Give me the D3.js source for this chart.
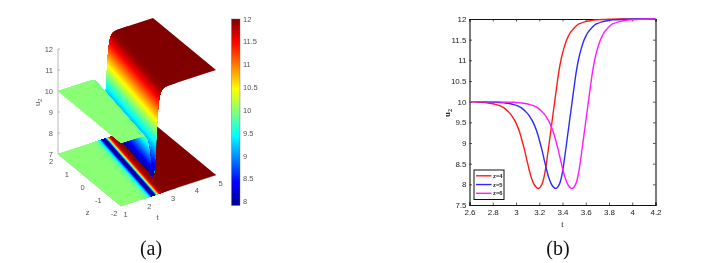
<!DOCTYPE html>
<html>
<head>
<meta charset="utf-8">
<script src="https://cdn.jsdelivr.net/npm/d3@7"></script>
<style>
  html, body { margin: 0; padding: 0; background: #fff; }
  svg { display: block; filter: blur(0.35px); }
  .tick-grey { font-family: "Liberation Sans", sans-serif; font-size: 7.5px; fill: #555; }
  .tick-dark { font-family: "Liberation Sans", sans-serif; font-size: 8px; fill: #222; }
  .caption { font-family: "Liberation Serif", serif; font-size: 20px; fill: #111; }
</style>
</head>
<body>
<svg id="chart" width="703" height="263"></svg>
<script>
// series, u level shared, t where each curve crosses it
const uLevels = [10, 9.985, 9.97, 9.955, 9.93, 9.89, 9.86, 9.82, 9.77, 9.71, 9.63, 9.54, 9.42, 9.27, 9.08, 8.87, 8.63, 8.39, 8.18, 8.03, 7.94, 7.9, 7.94, 8.05, 8.3, 8.68, 9.1, 9.52, 9.94, 10.36, 10.75, 11.05, 11.27, 11.45, 11.58, 11.68, 11.75, 11.81, 11.86, 11.89, 11.93, 11.96, 11.98, 11.99, 12, 12];
const tZ4 = [2.6, 2.69, 2.75, 2.79, 2.83, 2.87, 2.89, 2.91, 2.93, 2.95, 2.97, 2.99, 3.01, 3.03, 3.05, 3.07, 3.09, 3.11, 3.13, 3.15, 3.17, 3.19, 3.21, 3.23, 3.25, 3.27, 3.29, 3.31, 3.33, 3.35, 3.37, 3.39, 3.41, 3.43, 3.45, 3.47, 3.49, 3.51, 3.53, 3.55, 3.59, 3.64, 3.69, 3.77, 3.89, 4.2];
const tZ5 = [2.6, 2.84, 2.9, 2.94, 2.98, 3.02, 3.04, 3.06, 3.08, 3.1, 3.12, 3.14, 3.16, 3.18, 3.2, 3.22, 3.24, 3.26, 3.28, 3.3, 3.32, 3.34, 3.36, 3.38, 3.4, 3.42, 3.44, 3.46, 3.48, 3.5, 3.52, 3.54, 3.56, 3.58, 3.6, 3.62, 3.64, 3.66, 3.68, 3.7, 3.74, 3.79, 3.84, 3.92, 4.04, 4.2];
const tZ6 = [2.6, 2.98, 3.04, 3.08, 3.12, 3.16, 3.18, 3.2, 3.22, 3.24, 3.26, 3.28, 3.3, 3.32, 3.34, 3.36, 3.38, 3.4, 3.42, 3.44, 3.46, 3.48, 3.5, 3.52, 3.54, 3.56, 3.58, 3.6, 3.62, 3.64, 3.66, 3.68, 3.7, 3.72, 3.74, 3.76, 3.78, 3.8, 3.82, 3.84, 3.88, 3.93, 3.98, 4.06, 4.18, 4.2];

const seriesNames = ["z=4", "z=5", "z=6"];
const seriesColors = ["#ff1a1a", "#2a2aff", "#ff1aff"];

// panel (a): surface is the z=4 profile slid along t, shift read from the floor stripes
const surfaceZ = [-2, 2];
const surfaceShift = [-0.84, -0.28];

const xTicksB = [2.6, 2.8, 3, 3.2, 3.4, 3.6, 3.8, 4, 4.2];
const yTicksB = [7.5, 8, 8.5, 9, 9.5, 10, 10.5, 11, 11.5, 12];
const tTicksA = [1, 2, 3, 4, 5];
const zTicksA = [-2, -1, 0, 1, 2];
const uTicksA = [7, 8, 9, 10, 11, 12];
const barTicks = [8, 8.5, 9, 9.5, 10, 10.5, 11, 11.5, 12];

const jetPos = [0, 0.125, 0.375, 0.625, 0.875, 1];
const jetColors = ["#00008f", "#0000ff", "#00ffff", "#ffff00", "#ff0000", "#800000"];

const svg = d3.select("#chart");
const fmt = d => String(d);

const colorDomain = [7.92, 12];
const jet = d3.scaleLinear()
    .domain(jetPos.map(p => colorDomain[0] + p * (colorDomain[1] - colorDomain[0])))
    .range(jetColors)
    .clamp(true);

// ---- panel (a) ----
const origin = { x: 58, y: 154 };   // t=1, z=2, u=7 on screen
const txScale = d3.scaleLinear().domain([1, 5]).range([0, 95]);
const tyScale = d3.scaleLinear().domain([1, 5]).range([0, -31]);
const zxScale = d3.scaleLinear().domain([2, -2]).range([0, 63]);
const zyScale = d3.scaleLinear().domain([2, -2]).range([0, 52]);
const uyScale = d3.scaleLinear().domain([7, 12]).range([0, -105]);

function project(t, z, u) {
  return [
    origin.x + txScale(t) + zxScale(z),
    origin.y + tyScale(t) + zyScale(z) + uyScale(u)
  ];
}

const panelA = svg.append("g").attr("class", "panel-a");

// axes first, surface paints over them
const axisA = panelA.append("g").attr("stroke", "#8a8a8a").attr("stroke-width", 0.6);
const lineA = (a, b) => axisA.append("line").attr("x1", a[0]).attr("y1", a[1]).attr("x2", b[0]).attr("y2", b[1]);
lineA(project(1, 2, 7), project(1, 2, 12));
lineA(project(1, 2, 7), project(1, -2, 7));
lineA(project(1, -2, 7), project(5, -2, 7));
uTicksA.forEach(u => {
  const p = project(1, 2, u);
  lineA(p, [p[0] + 2, p[1]]);
  panelA.append("text").attr("class", "tick-grey").attr("x", p[0] - 5).attr("y", p[1] + 2.5)
      .attr("text-anchor", "end").text(fmt(u));
});
zTicksA.forEach(z => {
  const p = project(1, z, 7);
  lineA(p, [p[0] + 2, p[1] - 0.7]);
  panelA.append("text").attr("class", "tick-grey").attr("x", p[0] - 7).attr("y", p[1] + 10)
      .attr("text-anchor", "middle").text(fmt(z));
});
tTicksA.forEach(t => {
  const p = project(t, -2, 7);
  lineA(p, [p[0] - 1.3, p[1] - 1.2]);
  panelA.append("text").attr("class", "tick-grey").attr("x", p[0] + 4.5).attr("y", p[1] + 10.5)
      .attr("text-anchor", "middle").text(fmt(t));
});
panelA.append("text").attr("class", "tick-grey").attr("x", 87.5).attr("y", 215).attr("text-anchor", "middle").text("z");
panelA.append("text").attr("class", "tick-grey").attr("x", 157.5).attr("y", 219.5).attr("text-anchor", "middle").text("t");
const uLabelA = panelA.append("text").attr("class", "tick-grey").attr("transform", "translate(39.5,106) rotate(-90)");
uLabelA.append("tspan").text("u");
uLabelA.append("tspan").attr("dy", 2).style("font-size", "5.5px").text("2");

// surface profile, flat ends pushed past the t range and clamped
const profT = [tZ4[0] - 3].concat(tZ4, [tZ4[tZ4.length - 1] + 3]);
const profU = [uLevels[0]].concat(uLevels, [uLevels[uLevels.length - 1]]);
const clampT = d3.scaleLinear().domain([1, 5]).range([1, 5]).clamp(true);

// thin slices between two read samples so that the colour runs smooth
const slices = [];
for (let i = 0; i < profT.length - 1; i++) {
  const steps = Math.max(1, Math.ceil(Math.abs(profU[i + 1] - profU[i]) / 0.005));
  for (let k = 0; k < steps; k++) {
    const a = k / steps, b = (k + 1) / steps;
    const u0 = profU[i] + (profU[i + 1] - profU[i]) * a;
    slices.push({
      t0: profT[i] + (profT[i + 1] - profT[i]) * a,
      t1: profT[i] + (profT[i + 1] - profT[i]) * b,
      u0: u0,
      u1: profU[i] + (profU[i + 1] - profU[i]) * b,
      color: jet(u0)
    });
  }
}
// each slice reaches 0.08 in t under its nearer neighbours, they paint over it
// later and the antialiased seams never show the white page
const tStarts = slices.map(d => d.t0);
const uStarts = slices.map(d => d.u0);
slices.forEach((d, i) => {
  let j = i;
  while (j > 0 && tStarts[j] > tStarts[i] - 0.08) j--;
  d.t0 = tStarts[j];
  d.u0 = uStarts[j];
});

function slicePath(d, flat) {
  const pts = [];
  const uA = flat ? 7 : d.u0, uB = flat ? 7 : d.u1;
  pts.push(project(clampT(d.t0 + surfaceShift[0]), surfaceZ[0], uA));
  pts.push(project(clampT(d.t1 + surfaceShift[0]), surfaceZ[0], uB));
  pts.push(project(clampT(d.t1 + surfaceShift[1]), surfaceZ[1], uB));
  pts.push(project(clampT(d.t0 + surfaceShift[1]), surfaceZ[1], uA));
  return "M" + pts.map(p => p.join(",")).join("L") + "Z";
}

const farFirst = slices.slice().reverse();

// floor map at u=7
panelA.append("g").selectAll("path").data(farFirst).join("path")
    .attr("d", d => slicePath(d, true))
    .attr("fill", d => d.color);

// surface, far side (high t) painted first
panelA.append("g").selectAll("path").data(farFirst).join("path")
    .attr("d", d => slicePath(d, false))
    .attr("fill", d => d.color);

// colorbar
const barX = 231.5, barW = 8.5;
const barScale = d3.scaleLinear().domain(colorDomain).range([205.5, 19]);
const grad = svg.append("defs").append("linearGradient")
    .attr("id", "jetGrad").attr("x1", 0).attr("y1", 1).attr("x2", 0).attr("y2", 0);
grad.selectAll("stop").data(jetPos).join("stop")
    .attr("offset", d => d)
    .attr("stop-color", (d, i) => jetColors[i]);
panelA.append("rect").attr("x", barX).attr("y", barScale(12)).attr("width", barW)
    .attr("height", barScale(colorDomain[0]) - barScale(12))
    .attr("fill", "url(#jetGrad)").attr("stroke", "#666").attr("stroke-width", 0.4);
panelA.append("g").selectAll("text").data(barTicks).join("text")
    .attr("class", "tick-grey")
    .attr("x", barX + barW + 3)
    .attr("y", d => barScale(d) + 2.5)
    .text(fmt);

panelA.append("text").attr("class", "caption").attr("x", 151).attr("y", 255).attr("text-anchor", "middle").text("(a)");

// ---- panel (b) ----
const box = { left: 469.5, right: 655.5, top: 19, bottom: 205 };
const x = d3.scaleLinear().domain([2.6, 4.2]).range([box.left, box.right]);
const y = d3.scaleLinear().domain([7.5, 12]).range([box.bottom, box.top]);

const panelB = svg.append("g").attr("class", "panel-b");

const addAxis = (gen, tx, ty, labelled) => {
  const g = panelB.append("g").attr("transform", `translate(${tx},${ty})`).call(gen);
  g.select(".domain").attr("stroke", "#111").attr("stroke-width", 1.1);
  g.selectAll(".tick line").attr("stroke", "#111").attr("stroke-width", 0.7);
  if (labelled) {
    g.selectAll(".tick text").attr("class", "tick-dark").attr("font-family", null).attr("font-size", null);
  } else {
    g.selectAll(".tick text").remove();
  }
  return g;
};
addAxis(d3.axisBottom(x).tickValues(xTicksB).tickFormat(fmt).tickSize(-2.5).tickPadding(4), 0, box.bottom, true);
addAxis(d3.axisTop(x).tickValues(xTicksB).tickSize(-2.5), 0, box.top, false);
addAxis(d3.axisLeft(y).tickValues(yTicksB).tickFormat(fmt).tickSize(-2.5).tickPadding(3), box.left, 0, true);
addAxis(d3.axisRight(y).tickValues(yTicksB).tickSize(-2.5), box.right, 0, false);

const curve = d3.line().x(d => x(d[0])).y(d => y(d[1])).curve(d3.curveMonotoneX);
[tZ4, tZ5, tZ6].forEach((ts, i) => {
  panelB.append("path")
      .attr("d", curve(ts.map((t, j) => [t, uLevels[j]])))
      .attr("fill", "none")
      .attr("stroke", seriesColors[i])
      .attr("stroke-width", 1.4);
});

// legend
const legend = panelB.append("g");
legend.append("rect").attr("x", 474).attr("y", 170).attr("width", 30).attr("height", 29.5)
    .attr("fill", "#fff").attr("stroke", "#111").attr("stroke-width", 1);
seriesNames.forEach((name, i) => {
  const ly = d3.scaleLinear().domain([0, 2]).range([175.8, 193.3])(i);
  legend.append("line").attr("x1", 476).attr("x2", 491.5).attr("y1", ly).attr("y2", ly)
      .attr("stroke", seriesColors[i]).attr("stroke-width", 1.4);
  legend.append("text").attr("x", 493).attr("y", ly + 2)
      .attr("font-family", "Liberation Sans, sans-serif").attr("font-size", 5.8)
      .attr("font-weight", "bold").attr("fill", "#222").text(name);
});

panelB.append("text").attr("x", 562.5).attr("y", 227).attr("text-anchor", "middle")
    .attr("font-family", "Liberation Serif, serif").attr("font-size", 8.5).attr("fill", "#222").text("t");
const uLabelB = panelB.append("text").attr("transform", "translate(449.5,117) rotate(-90)")
    .attr("font-family", "Liberation Serif, serif").attr("font-size", 9).attr("font-weight", "bold").attr("fill", "#222");
uLabelB.append("tspan").text("u");
uLabelB.append("tspan").attr("dy", 2).style("font-size", "6px").text("2");

panelB.append("text").attr("class", "caption").attr("x", 558).attr("y", 255).attr("text-anchor", "middle").text("(b)");
</script>
</body>
</html>
